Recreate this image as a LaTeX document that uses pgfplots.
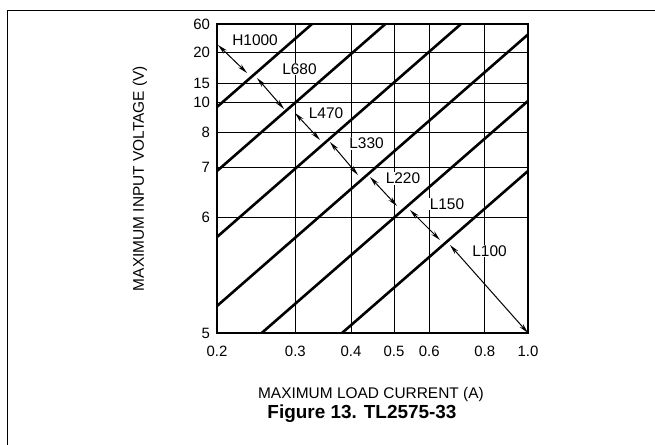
\documentclass[border=0pt]{standalone}
\usepackage{fontspec}
\setmainfont{Liberation Sans}
\usepackage{pgfplots}
\pgfplotsset{compat=1.18}
\usetikzlibrary{arrows.meta}

% y is the position on the chart's (non-uniform) voltage scale, 0 = 5 V, 309 = 60 V
\pgfplotstableread{
x y
0.2 226
0.327 309
}\lineA
\pgfplotstableread{
x y
0.2 162
0.478 309
}\lineB
\pgfplotstableread{
x y
0.2 96
0.707 309
}\lineC
\pgfplotstableread{
x y
0.2 27
1.0 298.5
}\lineD
\pgfplotstableread{
x y
0.252 0
1.0 232
}\lineE
\pgfplotstableread{
x y
0.382 0
1.0 162
}\lineF

\tikzset{dimarrow/.style={black, line width=1bp,
  {Stealth[length=10bp,width=4.5bp]}-{Stealth[length=10bp,width=4.5bp]}}}
\tikzset{reg/.style={fill=white, inner sep=1bp, font=\fontsize{15.5}{18}\selectfont}}

\begin{document}
\begin{tikzpicture}[x=1bp,y=1bp]
\useasboundingbox (-217,-112) rectangle (438,333);
\draw[line width=0.8bp] (-210,-112) -- (-210,323) -- (438,323);
\begin{axis}[
  scale only axis,
  width=311bp, height=309bp,
  xmode=log,
  xmin=0.2, xmax=1.0,
  ymin=0, ymax=309,
  xtick={0.2,0.3,0.4,0.5,0.6,0.8,1.0},
  xticklabels={0.2,0.3,0.4,0.5,0.6,0.8,1.0},
  ytick={0,116,166,201,231,250,281,309},
  yticklabels={5,6,7,8,10,15,20,60},
  minor xtick={},
  major tick length=0pt,
  grid=major,
  grid style={black, line width=0.8bp},
  axis line style={black, line width=1.3bp},
  tick label style={font=\fontsize{15}{17}\selectfont},
  xticklabel style={yshift=-10bp},
  yticklabel style={xshift=-3.5bp},
  xlabel={MAXIMUM LOAD CURRENT (A)},
  ylabel={MAXIMUM INPUT VOLTAGE (V)},
  every axis x label/.style={at={(axis description cs:0.495,-0.2)}, anchor=center,
    font=\fontsize{15.5}{18}\selectfont},
  every axis y label/.style={at={(axis description cs:-0.2476,0.5)}, rotate=90, anchor=center,
    font=\fontsize{15.5}{18}\selectfont},
  clip=false,
]
\addplot[black, line width=2.6bp] table {\lineA};
\addplot[black, line width=2.6bp] table {\lineB};
\addplot[black, line width=2.6bp] table {\lineC};
\addplot[black, line width=2.6bp] table {\lineD};
\addplot[black, line width=2.6bp] table {\lineE};
\addplot[black, line width=2.6bp] table {\lineF};

\addplot[dimarrow] coordinates {(0.2010,288) (0.2336,260)};
\addplot[dimarrow] coordinates {(0.2460,255) (0.2829,224)};
\addplot[dimarrow] coordinates {(0.2995,220) (0.3408,193)};
\addplot[dimarrow] coordinates {(0.3589,191) (0.4148,158)};
\addplot[dimarrow] coordinates {(0.4414,156) (0.5076,127)};
\addplot[dimarrow] coordinates {(0.5430,123) (0.6341,93)};
\addplot[dimarrow] coordinates {(0.6678,88) (1.0,0)};

\node[reg] at (axis cs:0.2435,293) {H1000};
\node[reg] at (axis cs:0.3064,264) {L680};
\node[reg] at (axis cs:0.3516,220) {L470};
\node[reg] at (axis cs:0.4337,189.5) {L330};
\node[reg] at (axis cs:0.5236,154.5) {L220};
\node[reg] at (axis cs:0.6576,129) {L150};
\node[reg] at (axis cs:0.8194,82) {L100};
\end{axis}
\node[font=\bfseries\fontsize{19}{22}\selectfont] at (145,-81) {Figure 13. TL2575-33};
\end{tikzpicture}
\end{document}
